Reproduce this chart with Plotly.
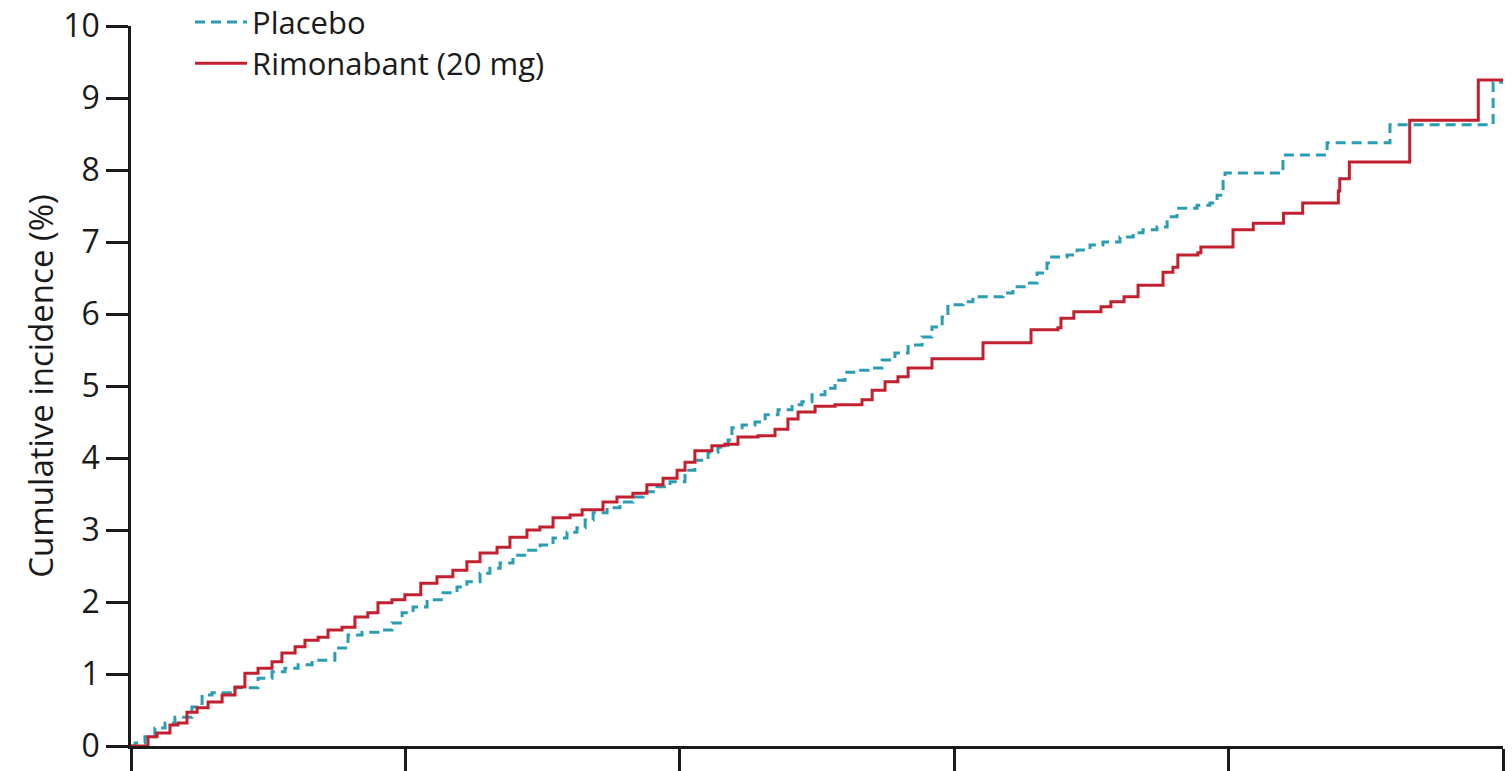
import plotly.graph_objects as go

# Time (arbitrary units, 5 equal intervals; no tick labels in the original)
placebo_t = [0.000, 0.015, 0.051, 0.087, 0.124, 0.160, 0.222, 0.259, 0.295, 0.379,
             0.463, 0.514, 0.561, 0.609, 0.660, 0.743, 0.791, 0.842, 0.900, 0.951,
             0.988, 1.028, 1.079, 1.137, 1.188, 1.224, 1.272, 1.308, 1.345, 1.392,
             1.443, 1.491, 1.538, 1.589, 1.625, 1.655, 1.684, 1.735, 1.782, 1.829,
             1.866, 1.917, 1.964, 2.019, 2.055, 2.103, 2.139, 2.176, 2.190, 2.227,
             2.274, 2.311, 2.358, 2.409, 2.445, 2.482, 2.529, 2.566, 2.602, 2.649,
             2.686, 2.737, 2.784, 2.832, 2.883, 2.919, 2.956, 2.977, 3.032, 3.068,
             3.178, 3.214, 3.265, 3.302, 3.338, 3.349, 3.411, 3.448, 3.495, 3.542,
             3.604, 3.652, 3.688, 3.739, 3.776, 3.812, 3.885, 3.932, 3.958, 3.980,
             3.987, 4.198, 4.359, 4.588, 4.964, 5.000]
placebo_y = [0.00, 0.04, 0.13, 0.25, 0.32, 0.40, 0.54, 0.71, 0.74, 0.81,
             0.94, 1.03, 1.08, 1.13, 1.19, 1.36, 1.54, 1.58, 1.61, 1.71,
             1.85, 1.93, 2.03, 2.13, 2.21, 2.28, 2.40, 2.47, 2.54, 2.65,
             2.72, 2.79, 2.89, 2.97, 3.03, 3.14, 3.24, 3.31, 3.39, 3.46,
             3.53, 3.60, 3.67, 3.83, 3.97, 4.08, 4.15, 4.25, 4.42, 4.46,
             4.50, 4.60, 4.67, 4.74, 4.78, 4.88, 4.97, 5.08, 5.19, 5.22,
             5.25, 5.36, 5.46, 5.57, 5.68, 5.82, 5.96, 6.13, 6.17, 6.24,
             6.29, 6.38, 6.43, 6.57, 6.71, 6.79, 6.82, 6.89, 6.96, 7.00,
             7.07, 7.13, 7.17, 7.21, 7.35, 7.47, 7.51, 7.54, 7.65, 7.86,
             7.96, 8.21, 8.38, 8.63, 9.22, 9.22]

rimo_t = [0.000, 0.062, 0.095, 0.142, 0.171, 0.204, 0.241, 0.281, 0.332, 0.379,
          0.415, 0.463, 0.514, 0.550, 0.598, 0.634, 0.682, 0.718, 0.769, 0.816,
          0.863, 0.900, 0.951, 0.998, 1.056, 1.115, 1.173, 1.224, 1.272, 1.334,
          1.381, 1.443, 1.490, 1.538, 1.600, 1.644, 1.720, 1.771, 1.829, 1.880,
          1.939, 1.990, 2.019, 2.055, 2.117, 2.164, 2.212, 2.285, 2.347, 2.394,
          2.431, 2.493, 2.566, 2.664, 2.701, 2.748, 2.795, 2.832, 2.919, 3.105,
          3.280, 3.378, 3.389, 3.436, 3.535, 3.571, 3.619, 3.670, 3.761, 3.797,
          3.815, 3.888, 3.899, 4.016, 4.090, 4.200, 4.270, 4.400, 4.405, 4.440,
          4.660, 4.910, 5.000]
rimo_y = [0.00, 0.13, 0.18, 0.29, 0.32, 0.47, 0.53, 0.61, 0.71, 0.82,
          1.01, 1.08, 1.17, 1.29, 1.38, 1.47, 1.51, 1.61, 1.65, 1.79,
          1.85, 1.99, 2.03, 2.10, 2.26, 2.35, 2.44, 2.56, 2.68, 2.76,
          2.90, 3.00, 3.04, 3.17, 3.21, 3.28, 3.39, 3.46, 3.51, 3.63,
          3.72, 3.83, 3.94, 4.10, 4.17, 4.19, 4.29, 4.31, 4.40, 4.54,
          4.64, 4.72, 4.74, 4.81, 4.94, 5.06, 5.13, 5.25, 5.38, 5.60,
          5.78, 5.81, 5.94, 6.03, 6.10, 6.17, 6.24, 6.40, 6.58, 6.65,
          6.82, 6.85, 6.93, 7.17, 7.26, 7.40, 7.54, 7.71, 7.88, 8.11,
          8.69, 9.25, 9.25]

x_ticks = [0, 1, 2, 3, 4, 5]
y_ticks = [0, 1, 2, 3, 4, 5, 6, 7, 8, 9, 10]

FONT = "Open Sans"
INK = "#1a1a1a"

fig = go.Figure()
fig.add_trace(go.Scatter(
    x=placebo_t, y=placebo_y, mode="lines", name="Placebo", legend="legend",
    line=dict(color="#2b9db3", width=3, dash="10px,6px", shape="hv"),
))
fig.add_trace(go.Scatter(
    x=rimo_t, y=rimo_y, mode="lines", name="Rimonabant (20 mg)", legend="legend2",
    line=dict(color="#c3202f", width=3, shape="hv"),
))

legend_common = dict(
    xanchor="left", yanchor="middle",
    font=dict(size=31, family=FONT, color=INK),
    bgcolor="rgba(0,0,0,0)", itemwidth=52,
)

fig.update_layout(
    width=1512, height=771,
    margin=dict(l=131, r=9, t=26, b=25, autoexpand=False),
    paper_bgcolor="white", plot_bgcolor="white",
    font=dict(family=FONT, color=INK),
    showlegend=True,
    legend=dict(x=0.043, y=1.0049, **legend_common),
    legend2=dict(x=0.043, y=0.9479, **legend_common),
    xaxis=dict(
        range=[0, 5], tickvals=x_ticks, showticklabels=False,
        showline=True, linecolor=INK, linewidth=2.5,
        ticks="outside", ticklen=25, tickwidth=2.5, tickcolor=INK,
        showgrid=False, zeroline=False,
    ),
    yaxis=dict(
        range=[0, 10], tickvals=y_ticks, ticklabeloverflow="allow",
        showline=True, linecolor=INK, linewidth=2.5,
        ticks="outside", ticklen=22, tickwidth=2.5, tickcolor=INK,
        tickfont=dict(size=32, family=FONT, color=INK),
        showgrid=False, zeroline=False,
        title=dict(text="Cumulative incidence (%)", standoff=0,
                   font=dict(size=33, family=FONT, color=INK)),
    ),
)

fig.write_html("out.html", config={"displayModeBar": False},
               post_script="document.body.style.margin='0';")
